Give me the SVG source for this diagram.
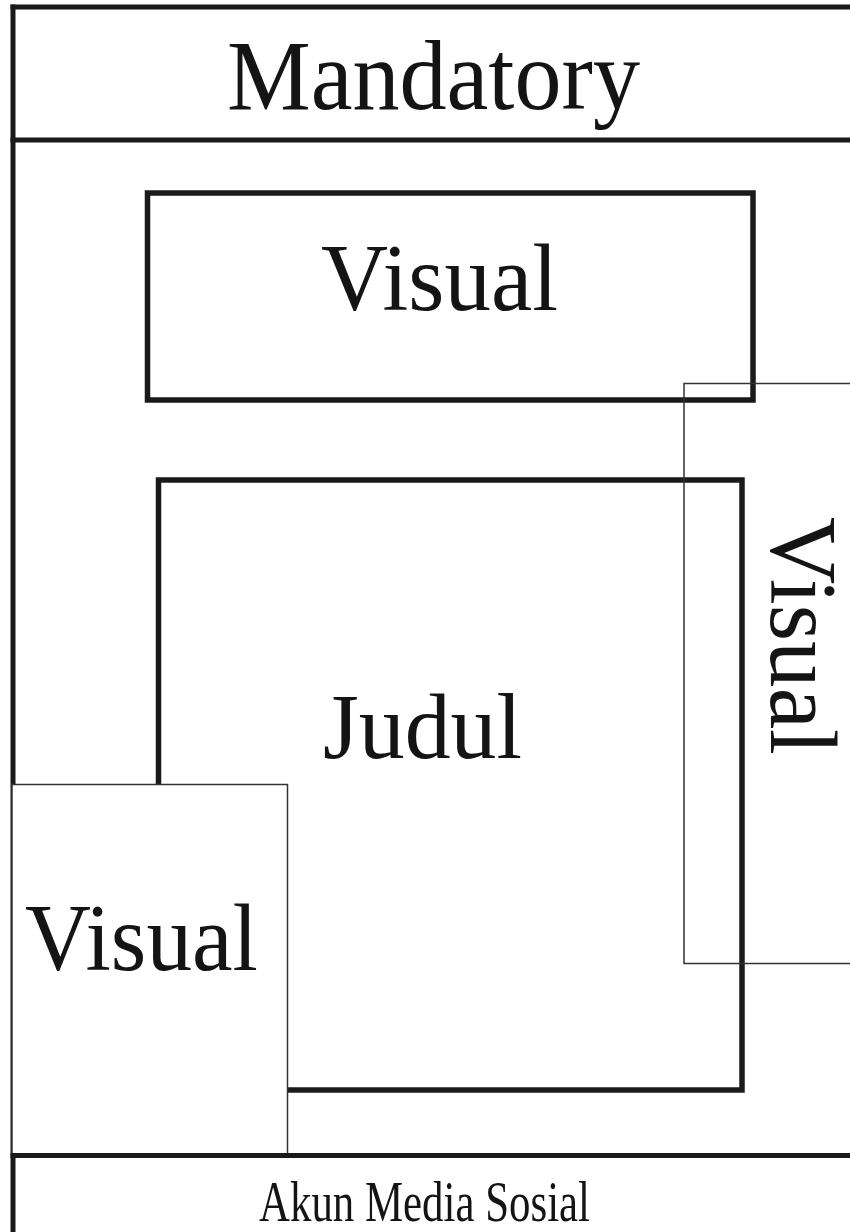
<svg xmlns="http://www.w3.org/2000/svg" width="850" height="1232" viewBox="0 0 850 1232">
  <style>
    .thick { fill: none; stroke: #1a1a1a; stroke-width: 5.5; }
    .thin { fill: none; stroke: #333; stroke-width: 1.5; }
    .cover { fill: #fff; stroke: #333; stroke-width: 1.5; }
    .rule { stroke: #1a1a1a; stroke-width: 5; }
    .lbl { font-family: "Liberation Serif", "Times New Roman", serif; fill: #141414; }
  </style>
  <rect width="850" height="1232" fill="#fff"/>

  <!-- page frame -->
  <g id="frame">
    <line class="rule" x1="13" y1="4.5" x2="13" y2="1232"/>
    <line class="rule" x1="10.5" y1="7" x2="850" y2="7"/>
    <line class="rule" x1="10.5" y1="140" x2="850" y2="140"/>
  </g>

  <!-- header -->
  <g id="mandatory">
    <text class="lbl" x="227" y="109" font-size="100" textLength="413" lengthAdjust="spacingAndGlyphs">Mandatory</text>
  </g>

  <!-- top visual block -->
  <g id="visual-top">
    <rect class="thick" x="147.5" y="193" width="605.5" height="207"/>
    <text class="lbl" x="321" y="310" font-size="95" textLength="237" lengthAdjust="spacingAndGlyphs">Visual</text>
  </g>

  <!-- title block -->
  <g id="judul">
    <rect class="thick" x="158.5" y="480" width="583.5" height="610"/>
    <text class="lbl" x="323" y="758" font-size="94" textLength="199" lengthAdjust="spacingAndGlyphs">Judul</text>
  </g>

  <!-- right side visual strip (outline only) -->
  <g id="visual-right">
    <rect class="thin" x="684" y="383.5" width="170" height="580"/>
    <text class="lbl" transform="translate(771,517) rotate(90)" x="0" y="0" font-size="95" textLength="238" lengthAdjust="spacingAndGlyphs">Visual</text>
  </g>

  <!-- lower left visual block, drawn over the frame and title box -->
  <g id="visual-left">
    <rect class="cover" x="12" y="784.5" width="275.5" height="372"/>
    <text class="lbl" x="25" y="970" font-size="96" textLength="233" lengthAdjust="spacingAndGlyphs">Visual</text>
  </g>

  <!-- footer -->
  <g id="footer">
    <line class="rule" x1="10.5" y1="1155.5" x2="850" y2="1155.5"/>
    <text class="lbl" x="259" y="1221" font-size="57" textLength="331" lengthAdjust="spacingAndGlyphs">Akun Media Sosial</text>
  </g>
</svg>
